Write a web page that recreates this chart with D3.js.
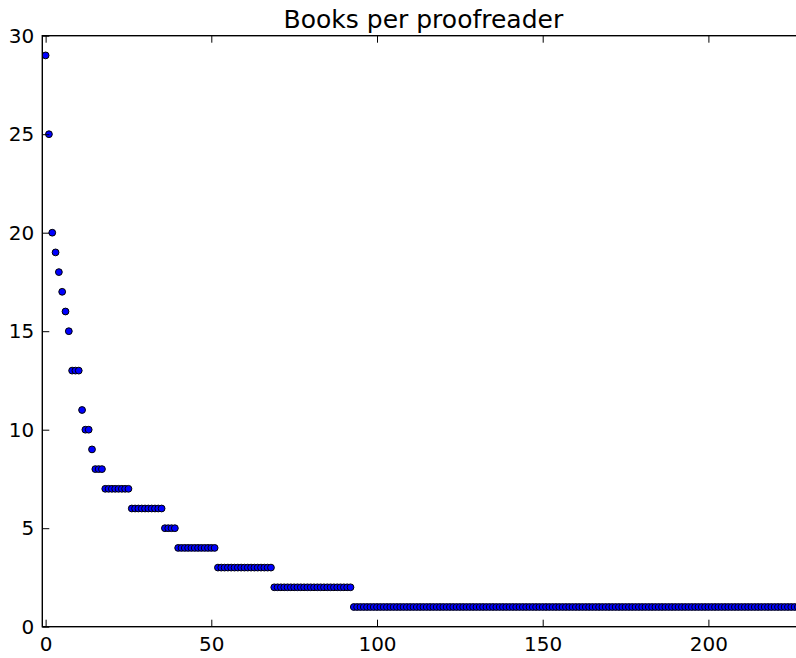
<!DOCTYPE html>
<html>
<head>
<meta charset="utf-8">
<script src="https://cdn.jsdelivr.net/npm/d3@7"></script>
<style>
html,body{margin:0;padding:0;background:#fff;}
svg{display:block;font-family:"DejaVu Sans",sans-serif;}
</style>
</head>
<body>
<svg id="chart" width="796" height="658"></svg>
<script>
const title = "Books per proofreader";
// books per proofreader, sorted descending (index = proofreader rank)
const books = [
  29,25,20,19,18,17,16,15,13,13,13,11,10,10,9,8,8,8,
  7,7,7,7,7,7,7,7,
  6,6,6,6,6,6,6,6,6,6,
  5,5,5,5,
  4,4,4,4,4,4,4,4,4,4,4,4,
  3,3,3,3,3,3,3,3,3,3,3,3,3,3,3,3,3,
  2,2,2,2,2,2,2,2,2,2,2,2,2,2,2,2,2,2,2,2,2,2,2,2,
  1,1,1,1,1,1,1,1,1,1,1,1,1,1,1,1,1,1,1,1,1,1,1,1,1,1,1,1,1,1,
  1,1,1,1,1,1,1,1,1,1,1,1,1,1,1,1,1,1,1,1,1,1,1,1,1,1,1,1,1,1,
  1,1,1,1,1,1,1,1,1,1,1,1,1,1,1,1,1,1,1,1,1,1,1,1,1,1,1,1,1,1,
  1,1,1,1,1,1,1,1,1,1,1,1,1,1,1,1,1,1,1,1,1,1,1,1,1,1,1,1,1,1,
  1,1,1,1,1,1,1,1,1,1,1,1,1,1,1
];
const xTicks = [0,50,100,150,200];
const yTicks = [0,5,10,15,20,25,30];
const xDomain = [-1, 229];
const yDomain = [0, 30];

const svg = d3.select("#chart");
const pL = 42.3, pR = 804.5, pT = 35.7, pB = 626.7;

const x = d3.scaleLinear().domain(xDomain).range([pL, pR]);
const y = d3.scaleLinear().domain(yDomain).range([pB, pT]);

svg.append("defs").append("clipPath").attr("id","clip")
  .append("rect").attr("x",pL).attr("y",pT).attr("width",pR-pL).attr("height",pB-pT);

svg.append("g").attr("clip-path","url(#clip)")
  .selectAll("circle").data(books).join("circle")
  .attr("cx",(d,i)=>x(i)).attr("cy",d=>y(d)).attr("r",3.4)
  .attr("fill","#0000ff").attr("stroke","#000").attr("stroke-width",1);

const tickLen = 7;
function styleAxis(g){
  g.select(".domain").remove();
  g.selectAll(".tick line").attr("stroke","#000").attr("stroke-width",1);
  g.selectAll(".tick text").attr("fill","#000").attr("font-size","20px").attr("font-family","DejaVu Sans");
}
// bottom
svg.append("g").attr("transform",`translate(0,${pB})`)
  .call(d3.axisBottom(x).tickValues(xTicks).tickFormat(d3.format("d")).tickSizeInner(-tickLen).tickSizeOuter(0).tickPadding(10))
  .call(styleAxis);
// top
svg.append("g").attr("transform",`translate(0,${pT})`)
  .call(d3.axisTop(x).tickValues(xTicks).tickFormat("").tickSizeInner(-tickLen).tickSizeOuter(0))
  .call(styleAxis);
// left
svg.append("g").attr("transform",`translate(${pL},0)`)
  .call(d3.axisLeft(y).tickValues(yTicks).tickFormat(d3.format("d")).tickSizeInner(-tickLen).tickSizeOuter(0).tickPadding(8))
  .call(styleAxis);
// right
svg.append("g").attr("transform",`translate(${pR},0)`)
  .call(d3.axisRight(y).tickValues(yTicks).tickFormat("").tickSizeInner(-tickLen).tickSizeOuter(0))
  .call(styleAxis);

svg.append("rect").attr("x",pL).attr("y",pT).attr("width",pR-pL).attr("height",pB-pT)
  .attr("fill","none").attr("stroke","#000").attr("stroke-width",1.4);

svg.append("text").attr("x",(pL+pR)/2).attr("y",27.5).attr("text-anchor","middle")
  .attr("font-size","25px").attr("fill","#000").text(title);
</script>
</body>
</html>
